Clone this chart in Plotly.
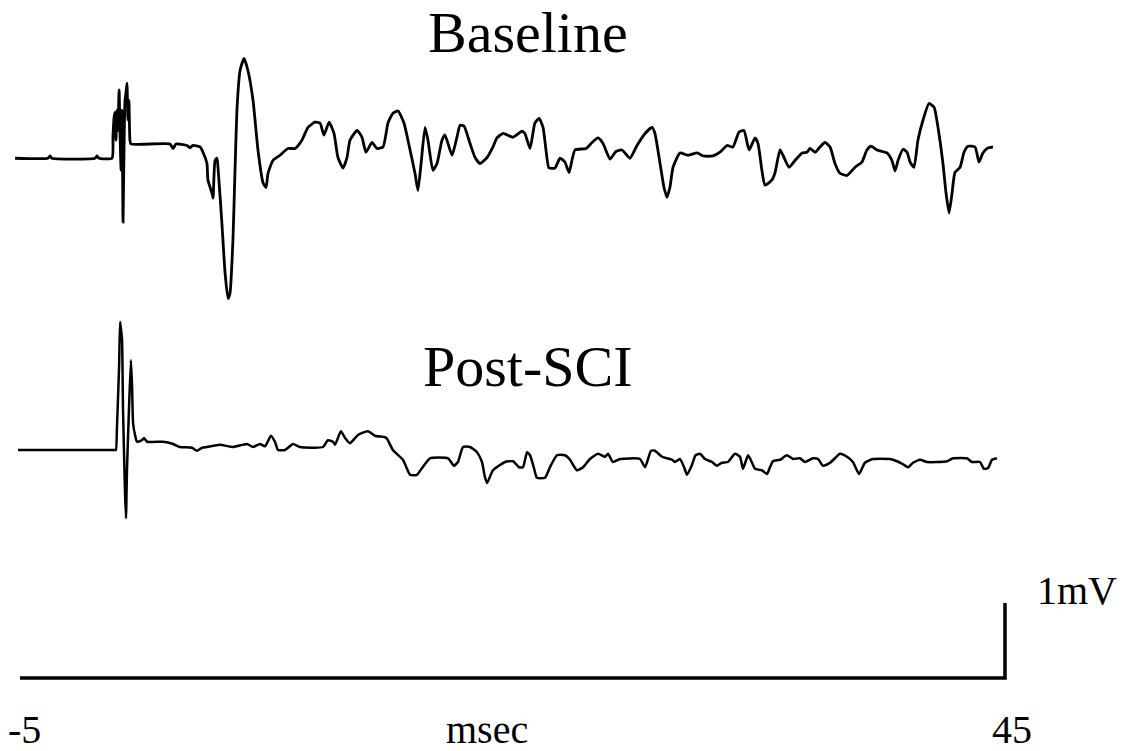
import plotly.graph_objects as go

# ---- Baseline trace: time (ms) and amplitude (mV, relative to its own baseline)
baseline_t = [-5.25, -3.58, -3.48, -3.38, -1.19, -1.09, -0.99, -0.33, -0.28, -0.23, -0.18, -0.13, -0.08, -0.03,
              0.03, 0.08, 0.13, 0.18, 0.23, 0.28, 0.33, 0.38, 0.43, 0.48, 0.53, 0.58, 0.63,
              2.61, 2.77, 2.92, 3.48, 3.63, 3.78, 4.14, 4.29, 4.49, 4.54, 4.75, 4.80, 4.90, 5.00, 5.05,
              5.25, 5.41, 5.56, 5.66, 5.81, 5.91, 6.02, 6.17, 6.37, 6.57, 6.83, 7.08, 7.34, 7.49,
              7.59, 7.84, 8.20, 8.60, 8.96, 9.31, 9.62, 9.97, 10.23, 10.43, 10.69, 10.94, 11.14,
              11.40, 11.60, 11.75, 12.11, 12.36, 12.56, 12.87, 13.12, 13.43, 13.68, 13.93, 14.19,
              14.49, 14.80, 15.05, 15.20, 15.36, 15.56, 15.71, 15.96, 16.17, 16.42, 16.57, 16.93,
              17.18, 17.34, 17.54, 17.84, 18.10, 18.35, 18.71, 19.01, 19.21, 19.52, 20.03, 20.48,
              20.63, 20.89, 21.14, 21.35, 21.55, 21.70, 21.85, 22.16, 22.41, 22.66, 22.87, 23.17,
              23.73, 24.04, 24.34, 24.59, 24.95, 25.25, 25.56, 25.96, 26.32, 26.73, 27.08, 27.23,
              27.49, 27.69, 27.84, 27.99, 28.15, 28.50, 28.91, 29.37, 29.67, 30.18, 30.53, 30.89,
              31.19, 31.50, 31.75, 32.01, 32.31, 32.46, 32.66, 32.82, 33.17, 33.32, 33.58, 33.73,
              34.04, 34.34, 34.70, 34.95, 35.10, 35.36, 35.61, 35.86, 36.12, 36.37, 36.62, 36.98,
              37.39, 37.74, 37.99, 38.20, 38.50, 39.01, 39.26, 39.42, 39.57, 39.82, 40.03, 40.18,
              40.38, 40.58, 40.84, 41.14, 41.40, 41.60, 41.85, 42.01, 42.16, 42.31, 42.46, 42.72,
              42.92, 43.12, 43.48, 43.68, 43.88, 44.09, 44.39]
baseline_mv = [0.00, 0.00, 0.03, 0.00, 0.00, 0.03, 0.00, 0.00, 0.29, 0.53, 0.61, 0.24, 0.64, 0.37,
               0.91, 0.31, -0.16, 0.64, -0.85, 0.11, 0.77, 0.87, 1.00, 0.51, 0.77, 0.24, 0.19,
               0.19, 0.13, 0.19, 0.17, 0.14, 0.17, 0.15, 0.08, -0.07, -0.29, -0.47, -0.53, -0.03, 0.00, -0.12,
               -0.87, -1.53, -1.87, -1.80, -1.09, -0.20, 0.68, 1.17, 1.33, 1.17, 0.77, 0.11, -0.33, -0.39,
               -0.20, -0.03, 0.04, 0.13, 0.13, 0.24, 0.41, 0.48, 0.47, 0.31, 0.48, 0.33, 0.01,
               -0.13, 0.01, 0.24, 0.37, 0.28, 0.08, 0.21, 0.13, 0.15, 0.47, 0.60, 0.63,
               0.47, 0.11, -0.20, -0.43, -0.07, 0.41, 0.24, -0.16, -0.07, 0.24, 0.31, 0.04,
               0.28, 0.44, 0.43, 0.20, 0.01, -0.07, 0.01, 0.15, 0.27, 0.33, 0.28, 0.36,
               0.33, 0.13, 0.47, 0.53, 0.41, 0.11, -0.13, -0.13, 0.00, -0.05, -0.19, 0.11,
               0.13, 0.21, 0.27, 0.20, -0.01, 0.09, 0.11, 0.00, 0.17, 0.33, 0.41, 0.33,
               -0.07, -0.39, -0.52, -0.39, -0.12, 0.07, 0.04, 0.07, 0.03, 0.03, 0.08, 0.17,
               0.15, 0.35, 0.37, 0.11, 0.27, 0.20, -0.16, -0.36, -0.29, -0.20, 0.11, 0.04,
               -0.12, -0.03, 0.07, 0.08, 0.13, 0.08, 0.15, 0.21, 0.15, -0.07, -0.20, -0.23,
               -0.12, -0.05, 0.11, 0.16, 0.11, 0.07, -0.03, -0.17, -0.03, 0.12, 0.08, -0.05,
               -0.12, 0.24, 0.51, 0.73, 0.68, 0.41, -0.07, -0.47, -0.73, -0.47, -0.19, -0.12,
               0.08, 0.16, 0.15, -0.05, 0.07, 0.13, 0.15]

# ---- Post-SCI trace
post_t = [-5.10, -0.18, -0.13, -0.08, 0.03, 0.08, 0.13, 0.18, 0.23, 0.33, 0.38, 0.43, 0.53, 0.63,
          0.69, 0.74, 0.84, 0.94, 1.19, 1.29, 1.45, 2.26, 2.77, 3.12, 3.73, 3.98, 4.24, 4.49,
          5.15, 5.81, 6.52, 6.83, 7.18, 7.44, 7.74, 7.94, 8.10, 8.45, 8.86, 9.21, 10.38, 10.63,
          10.89, 10.99, 11.29, 11.50, 11.75, 12.16, 12.66, 13.02, 13.53, 13.63, 13.93, 14.44,
          14.80, 15.15, 15.41, 15.81, 16.73, 17.03, 17.23, 17.49, 17.84, 18.20, 18.45, 18.60,
          18.71, 19.01, 19.62, 20.03, 20.33, 20.53, 20.74, 20.89, 21.09, 21.24, 21.65, 21.90,
          22.26, 22.66, 22.92, 23.27, 23.58, 23.93, 24.34, 24.70, 24.85, 25.10, 25.46, 26.47,
          26.73, 27.03, 27.23, 27.59, 28.10, 28.25, 28.50, 28.71, 28.86, 29.11, 29.29, 29.52,
          29.77, 30.13, 30.38, 30.63, 30.94, 31.29, 31.55, 31.70, 31.96, 32.16, 32.31, 32.66,
          32.92, 33.07, 33.22, 33.58, 33.93, 34.24, 34.59, 34.85, 35.25, 35.51, 35.76, 36.12,
          36.37, 36.62, 36.98, 37.28, 37.59, 37.89, 38.30, 39.16, 39.52, 39.82, 40.08, 40.33,
          40.69, 41.04, 41.55, 42.06, 42.36, 43.07, 43.32, 43.73, 43.93, 44.14, 44.34, 44.59]
post_mv = [0.00, 0.00, 0.00, 0.29, 1.11, 1.71, 1.60, 1.47, 0.53, -0.56, -0.91, -0.27, 0.53, 1.20,
           0.84, 0.36, 0.20, 0.11, 0.13, 0.16, 0.11, 0.11, 0.08, 0.04, 0.03, -0.01, 0.03, 0.04,
           0.07, 0.04, 0.08, 0.04, 0.08, 0.05, 0.19, 0.11, 0.00, 0.00, 0.08, 0.04, 0.04, 0.13,
           0.11, 0.07, 0.25, 0.16, 0.09, 0.20, 0.25, 0.19, 0.17, 0.15, 0.00, -0.13,
           -0.33, -0.33, -0.24, -0.11, -0.11, -0.21, -0.16, 0.04, 0.04, -0.03, -0.16, -0.36,
           -0.44, -0.27, -0.16, -0.15, -0.23, -0.23, -0.03, -0.07, -0.24, -0.37, -0.37, -0.23,
           -0.07, -0.07, -0.13, -0.27, -0.23, -0.12, -0.05, -0.09, -0.05, -0.16, -0.12, -0.12,
           -0.23, -0.01, -0.01, -0.09, -0.13, -0.16, -0.12, -0.23, -0.33, -0.20, -0.07, -0.05,
           -0.12, -0.16, -0.21, -0.17, -0.16, -0.05, -0.09, -0.25, -0.07, -0.17, -0.25, -0.27,
           -0.32, -0.23, -0.15, -0.13, -0.07, -0.12, -0.11, -0.16, -0.11, -0.12, -0.21, -0.17,
           -0.11, -0.05, -0.09, -0.16, -0.32, -0.17, -0.12, -0.12, -0.15, -0.19, -0.23, -0.17,
           -0.13, -0.16, -0.16, -0.15, -0.11, -0.11, -0.16, -0.16, -0.25, -0.24, -0.13, -0.11]

# ---- Scale bar and labels
scale_t = [-5, 45, 45]
scale_mv = [0, 0, 1]
time_labels = ["-5", "45"]

BASELINE_OFFSET = 6.93   # vertical placement of the traces (mV units)
POST_OFFSET = 3.04

fig = go.Figure()
fig.add_trace(go.Scatter(x=baseline_t, y=[v + BASELINE_OFFSET for v in baseline_mv],
                         mode="lines", line=dict(color="black", width=2.8, shape="spline", smoothing=0.5),
                         showlegend=False))
fig.add_trace(go.Scatter(x=post_t, y=[v + POST_OFFSET for v in post_mv],
                         mode="lines", line=dict(color="black", width=2.5, shape="spline", smoothing=0.5),
                         showlegend=False))
fig.add_trace(go.Scatter(x=scale_t, y=scale_mv, mode="lines",
                         line=dict(color="black", width=3.5), showlegend=False))

title_font = dict(family="Liberation Serif", size=58, color="black")
label_font = dict(family="Liberation Serif", size=40, color="black")
annos = [
    dict(x=20.8, y=8.6, text="Baseline", font=title_font),
    dict(x=20.8, y=4.16, text="Post-SCI", font=title_font),
    dict(x=48.66, y=1.17, text="1mV", font=label_font),
    dict(x=scale_t[0] + 0.25, y=-0.69, text=time_labels[0], font=label_font),
    dict(x=scale_t[1] + 0.35, y=-0.69, text=time_labels[1], font=label_font),
    dict(x=18.7, y=-0.69, text="msec", font=label_font),
]
for a in annos:
    fig.add_annotation(xref="x", yref="y", showarrow=False, xanchor="center", yanchor="middle", **a)

# the page has an 8px body margin, so the figure is sized to fit inside the window
fig.update_layout(
    width=1124, height=743,
    margin=dict(l=0, r=0, t=0, b=0),
    paper_bgcolor="white", plot_bgcolor="white",
    xaxis=dict(range=[-5.609, 51.447], visible=False, fixedrange=True),
    yaxis=dict(range=[-0.973, 8.933], visible=False, fixedrange=True),
)
fig.write_html("out.html")
